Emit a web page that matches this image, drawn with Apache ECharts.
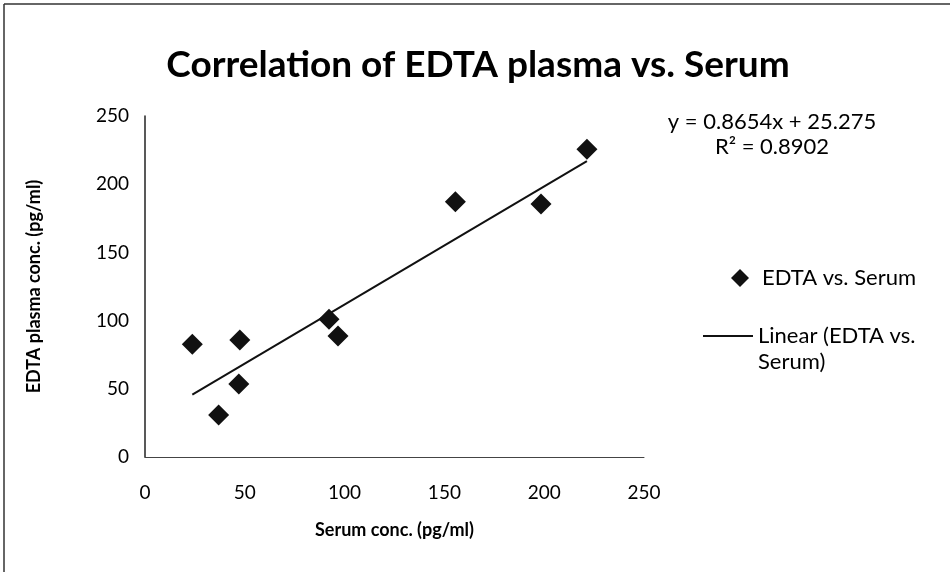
<!DOCTYPE html>
<html>
<head>
<meta charset="utf-8">
<title>Correlation of EDTA plasma vs. Serum</title>
<script src="https://cdn.jsdelivr.net/npm/echarts@6/dist/echarts.min.js"></script>
<style>
  html, body { margin: 0; padding: 0; background: #fff; }
  #chart { width: 950px; height: 572px; }
</style>
</head>
<body>
<div id="chart"></div>
<script>
// values
var serum = [23.7, 47.5, 47, 36.9, 92.2, 96.7, 155.5, 198.4, 221.4];
var edta  = [82.6, 85.8, 53.5, 30.8, 101, 88.7, 187.2, 185.5, 225.6];
// trendline end points (y = 0.8654x + 25.275 over the data range)
var trendX = [23.7, 221.4];
var trendY = [45.8, 216.9];
var axisTicks = [0, 50, 100, 150, 200, 250];
var equation = ['y = 0.8654x + 25.275', 'R\u00b2 = 0.8902'];

var font = 'Lato';
var points = serum.map(function (x, i) { return [x, edta[i]]; });
var trend = trendX.map(function (x, i) { return [x, trendY[i]]; });

var chart = echarts.init(document.getElementById('chart'));
chart.setOption({
  backgroundColor: '#fff',
  animation: false,
  textStyle: { fontFamily: font },
  title: [{
    text: 'Correlation of EDTA plasma vs. Serum',
    left: 473, top: 42, textAlign: 'center',
    textStyle: { fontFamily: font, fontSize: 37, fontWeight: 'bold', color: '#000' }
  }, {
    text: equation.join('\n'),
    left: 767, top: 104, textAlign: 'center',
    textStyle: { fontFamily: font, fontSize: 22, fontWeight: 'normal', color: '#000', lineHeight: 25, align: 'center' }
  }],
  legend: [{
    data: [{ name: 'EDTA vs. Serum', icon: 'diamond' }],
    left: 726, top: 262,
    itemWidth: 18, itemHeight: 18, itemGap: 12,
    itemStyle: { opacity: 1 },
    textStyle: { fontFamily: font, fontSize: 22, color: '#000', padding: [0, 0, 0, 8] }
  }, {
    data: [{ name: 'Linear (EDTA vs. Serum)', icon: 'rect' }],
    left: 698, top: 292,
    itemWidth: 50, itemHeight: 2, itemGap: 8,
    formatter: function () { return ' \nLinear (EDTA vs.\nSerum)'; },
    textStyle: { fontFamily: font, fontSize: 22, color: '#000', lineHeight: 26 }
  }],
  grid: { left: 145, right: 306, top: 116, bottom: 115, containLabel: false },
  xAxis: {
    type: 'value', min: axisTicks[0], max: axisTicks[axisTicks.length - 1], interval: 50,
    name: 'Serum conc. (pg/ml)', nameLocation: 'middle', nameGap: 64,
    nameTextStyle: { fontFamily: font, fontSize: 18, fontWeight: 'bold', color: '#000' },
    axisLine: { show: true, onZero: false, lineStyle: { color: '#444', width: 1 } },
    axisTick: { show: false },
    splitLine: { show: false },
    axisLabel: { fontFamily: font, fontSize: 19, color: '#000', margin: 26 }
  },
  yAxis: {
    type: 'value', min: axisTicks[0], max: axisTicks[axisTicks.length - 1], interval: 50,
    name: 'EDTA plasma conc. (pg/ml)', nameLocation: 'middle', nameGap: 102,
    nameTextStyle: { fontFamily: font, fontSize: 18, fontWeight: 'bold', color: '#000' },
    axisLine: { show: true, lineStyle: { color: '#222', width: 1.5 } },
    axisTick: { show: false },
    splitLine: { show: false },
    axisLabel: { fontFamily: font, fontSize: 19, color: '#000', margin: 16 }
  },
  series: [{
    name: 'EDTA vs. Serum',
    type: 'scatter',
    data: points,
    symbol: 'diamond',
    symbolSize: 21,
    itemStyle: { color: '#111', opacity: 1 },
    z: 3
  }, {
    name: 'Linear (EDTA vs. Serum)',
    type: 'line',
    data: trend,
    showSymbol: false,
    symbol: 'none',
    lineStyle: { color: '#111', width: 2 },
    itemStyle: { color: '#111' },
    z: 2
  }],
  graphic: [{
    type: 'line', silent: true,
    shape: { x1: 4, y1: 4, x2: 950, y2: 4 },
    style: { stroke: '#333', lineWidth: 1.5 }
  }, {
    type: 'line', silent: true,
    shape: { x1: 4, y1: 4, x2: 4, y2: 572 },
    style: { stroke: '#333', lineWidth: 1.5 }
  }]
});
</script>
</body>
</html>
